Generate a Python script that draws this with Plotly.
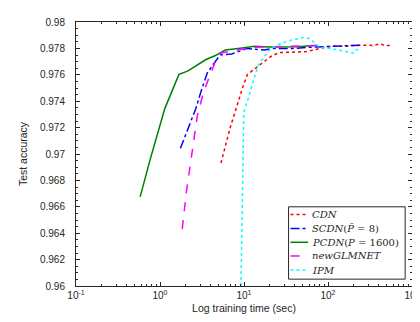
import plotly.graph_objects as go

# ---- data ----
cdn_x = [5.32, 6.82, 8.16, 9.77, 11.0, 13.4, 16.0, 20.9, 26.2, 35.0, 42.8, 56.0, 80.0, 115.0, 164.0, 257.0, 350.0, 419.0, 470.0, 562.0]
cdn_y = [0.96932, 0.97196, 0.97356, 0.97517, 0.97603, 0.97645, 0.97689, 0.97739, 0.97768, 0.97772, 0.97776, 0.97776, 0.97800, 0.97817, 0.97817, 0.97825, 0.97822, 0.97835, 0.97822, 0.97822]

scdn_x = [1.75, 2.2, 2.67, 3.1, 3.66, 4.57, 5.22, 7.14, 9.35, 11.0, 13.4, 17.5, 22.9, 39.0, 56.0, 105.0, 180.0, 245.0]
scdn_y = [0.97043, 0.97200, 0.97344, 0.97480, 0.97615, 0.97702, 0.97751, 0.97758, 0.97783, 0.97800, 0.97793, 0.97788, 0.97800, 0.97800, 0.97808, 0.97813, 0.97820, 0.97825]

pcdn_x = [0.58, 0.76, 1.14, 1.68, 2.13, 2.67, 3.49, 4.57, 5.98, 8.54, 13.4, 20.0, 30.0, 45.0, 60.0, 68.0]
pcdn_y = [0.96675, 0.96954, 0.97344, 0.97603, 0.97628, 0.97665, 0.97714, 0.97746, 0.97788, 0.97800, 0.97817, 0.97810, 0.97810, 0.97812, 0.97820, 0.97820]

glm_x = [1.84, 2.05, 2.33, 2.79, 3.34, 3.99, 4.57, 5.22, 6.5, 9.35, 13.4, 20.0, 30.0, 45.0, 60.0, 83.0]
glm_y = [0.96431, 0.96703, 0.96949, 0.97295, 0.97480, 0.97615, 0.97702, 0.97763, 0.97776, 0.97793, 0.97808, 0.97810, 0.97812, 0.97815, 0.97820, 0.97825]

ipm_x = [9.2, 9.5, 9.95, 11.2, 12.8, 14.6, 17.5, 20.9, 27.4, 35.8, 51.2, 61.2, 70.1, 80.0, 105.0, 137.0, 164.0, 196.0, 220.0, 245.0]
ipm_y = [0.96000, 0.96700, 0.97320, 0.97418, 0.97541, 0.97665, 0.97739, 0.97800, 0.97837, 0.97862, 0.97882, 0.97874, 0.97837, 0.97808, 0.97800, 0.97788, 0.97776, 0.97763, 0.97793, 0.97776]

series_names = ["<i>CDN</i>", "<i>SCDN</i>(<i>P̄</i> = 8)", "<i>PCDN</i>(<i>P</i> = 1600)", "<i>newGLMNET</i>", "<i>IPM</i>"]

x_tickvals = [0.1, 1, 10, 100, 1000]
x_ticktext = ["10<sup>-1</sup>", "10<sup>0</sup>", "10<sup>1</sup>", "10<sup>2</sup>", "10<sup>3</sup>"]
y_tickvals = [0.96, 0.962, 0.964, 0.966, 0.968, 0.97, 0.972, 0.974, 0.976, 0.978, 0.98]
y_ticktext = ["0.96", "0.962", "0.964", "0.966", "0.968", "0.97", "0.972", "0.974", "0.976", "0.978", "0.98"]

styles = [
    ("#ff0000", "dot"),
    ("#0000ff", "dashdot"),
    ("#008000", "solid"),
    ("#ff00ff", "dash"),
    ("#00ffff", "dot"),
]
xs_all = [cdn_x, scdn_x, pcdn_x, glm_x, ipm_x]
ys_all = [cdn_y, scdn_y, pcdn_y, glm_y, ipm_y]

fig = go.Figure()
for name, xs, ys, (col, dash) in zip(series_names, xs_all, ys_all, styles):
    fig.add_trace(go.Scatter(x=xs, y=ys, mode="lines", name=name, showlegend=False,
                             line=dict(color=col, dash=dash, width=1.5)))

W, H = 420, 322
ML, MR, MT, MB = 68, 9, 8, 44
pw, ph = W - ML - MR, H - MT - MB

def px2paper_x(px):
    return (px - ML) / pw

def px2paper_y(py):
    return (H - MB - py) / ph

# ---- legend box (drawn in paper space) ----
edge = "#262626"
shapes = [dict(type="rect", xref="paper", yref="paper",
               x0=px2paper_x(285), x1=px2paper_x(404),
               y0=px2paper_y(271), y1=px2paper_y(197),
               line=dict(color=edge, width=1), fillcolor="white", layer="above")]
annotations = []
row_py = [205, 219.3, 233.3, 247.3, 261.7]
for name, (col, dash), py in zip(series_names, styles, row_py):
    shapes.append(dict(type="line", xref="paper", yref="paper",
                       x0=px2paper_x(287), x1=px2paper_x(305),
                       y0=px2paper_y(py), y1=px2paper_y(py),
                       line=dict(color=col, dash=dash, width=1.5), layer="above"))
    annotations.append(dict(xref="paper", yref="paper", x=px2paper_x(306.5), y=px2paper_y(py),
                            xanchor="left", yanchor="middle", showarrow=False, text=name,
                            font=dict(family="DejaVu Serif, serif", size=10, color=edge)))

axis_font = dict(family="Liberation Sans, Arial, sans-serif", size=10, color=edge)

fig.update_layout(
    width=W, height=H,
    margin=dict(l=ML, r=MR, t=MT, b=MB),
    paper_bgcolor="white", plot_bgcolor="white",
    font=axis_font,
    showlegend=False,
    shapes=shapes, annotations=annotations,
)
fig.update_xaxes(
    type="log", range=[-1, 3],
    tickvals=x_tickvals, ticktext=x_ticktext,
    ticks="inside", ticklen=4, tickcolor=edge,
    minor=dict(ticks="inside", ticklen=2, tickcolor=edge, dtick="D1", showgrid=False),
    showline=True, linecolor=edge, linewidth=1, mirror="ticks",
    showgrid=False, zeroline=False,
    title=dict(text="Log training time (sec)", font=dict(size=10.5), standoff=4),
    tickfont=axis_font,
)
fig.update_yaxes(
    range=[0.96, 0.98],
    tickvals=y_tickvals, ticktext=y_ticktext,
    ticks="inside", ticklen=4, tickcolor=edge,
    minor=dict(ticks="inside", ticklen=2, tickcolor=edge, dtick=0.0005, showgrid=False),
    showline=True, linecolor=edge, linewidth=1, mirror="ticks",
    showgrid=False, zeroline=False, ticklabelstandoff=8,
    title=dict(text="Test accuracy", font=dict(size=10.5), standoff=10),
    tickfont=axis_font,
)

fig.write_html("out.html")
